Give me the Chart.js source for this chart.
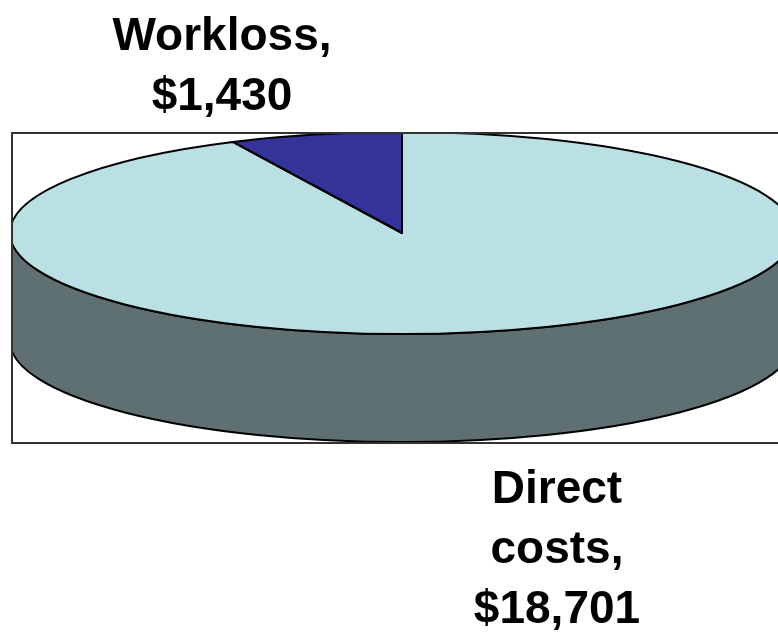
<!DOCTYPE html>
<html>
<head>
<meta charset="utf-8">
<script src="https://cdn.jsdelivr.net/npm/chart.js@4"></script>
<style>
  body { margin: 0; background: #fff; }
  #wrap { position: relative; width: 778px; height: 634px; }
  .lbl {
    position: absolute;
    font-family: Arial, "Liberation Sans", sans-serif;
    font-weight: bold;
    font-size: 46px;
    line-height: 60px;
    text-align: center;
    color: #000;
  }
</style>
</head>
<body>
<div id="wrap">
  <canvas id="chart"></canvas>
  <div class="lbl" id="lbl1" style="left:92px; top:4px; width:260px;"></div>
  <div class="lbl" id="lbl0" style="left:457px; top:457px; width:200px;"></div>
</div>
<script>
const categories = ['Direct costs', 'Workloss'];
const costs = [18701, 1430];
const topColors = ['#BBE0E3', '#333399'];
const sideColors = ['#5F7073', '#1F1F5C'];

// 3D look: where the tilted pie sits on the page
const pie3d = {cx: 402, cy: 233, rx: 392, ry: 101, depth: 108};
const frame = {left: 12, top: 133, right: 779, bottom: 443};

// labels from the data
categories.forEach((c, i) => {
  document.getElementById('lbl' + i).innerText =
    c + ', $' + costs[i].toLocaleString('en-US');
});

// parts of an angle range that face the viewer (0..PI on the canvas)
function frontParts(s, e) {
  const parts = [];
  for (let k = -1; k <= 1; k++) {
    const a = Math.max(s, k * 2 * Math.PI);
    const b = Math.min(e, k * 2 * Math.PI + Math.PI);
    if (b > a) parts.push([a, b]);
  }
  return parts;
}

function clipFrame(ctx) {
  ctx.beginPath();
  ctx.rect(frame.left, frame.top, frame.right - frame.left, frame.bottom - frame.top);
  ctx.clip();
}

const tiltPlugin = {
  id: 'tilt',
  beforeDatasetsDraw(chart) {
    const ctx = chart.ctx;
    const arcs = chart.getDatasetMeta(0).data;
    const {cx, cy, rx, ry, depth} = pie3d;

    ctx.save();
    clipFrame(ctx);

    // side wall
    arcs.forEach((el, i) => {
      frontParts(el.startAngle, el.endAngle).forEach(([a, b]) => {
        ctx.beginPath();
        ctx.ellipse(cx, cy, rx, ry, 0, a, b);
        ctx.ellipse(cx, cy + depth, rx, ry, 0, b, a, true);
        ctx.closePath();
        ctx.fillStyle = sideColors[i];
        ctx.fill();
        ctx.lineWidth = 2;
        ctx.strokeStyle = '#000';
        ctx.stroke();
      });
    });

    // squash the library's round pie onto the ellipse
    const el0 = arcs[0];
    const R = el0.outerRadius;
    ctx.translate(cx, cy);
    ctx.scale(rx / R, ry / R);
    ctx.translate(-el0.x, -el0.y);
  },
  afterDatasetsDraw(chart) {
    const ctx = chart.ctx;
    const arcs = chart.getDatasetMeta(0).data;
    const {cx, cy, rx, ry} = pie3d;
    ctx.restore();

    ctx.save();
    clipFrame(ctx);
    ctx.lineWidth = 2;
    ctx.strokeStyle = '#000';
    ctx.lineJoin = 'round';
    arcs.forEach(el => {
      ctx.beginPath();
      ctx.moveTo(cx, cy);
      ctx.ellipse(cx, cy, rx, ry, 0, el.startAngle, el.endAngle);
      ctx.closePath();
      ctx.stroke();
    });
    ctx.restore();

    // plot area border
    ctx.save();
    ctx.lineWidth = 2;
    ctx.strokeStyle = '#333';
    ctx.strokeRect(frame.left, frame.top, frame.right - frame.left, frame.bottom - frame.top);
    ctx.restore();
  }
};

new Chart(document.getElementById('chart'), {
  type: 'pie',
  data: {
    labels: categories,
    datasets: [{
      data: costs,
      backgroundColor: topColors,
      borderWidth: 0,
      clip: false
    }]
  },
  options: {
    responsive: true,
    maintainAspectRatio: false,
    animation: false,
    events: [],
    plugins: {
      legend: {display: false},
      tooltip: {enabled: false}
    }
  },
  plugins: [tiltPlugin]
});
</script>
</body>
</html>
